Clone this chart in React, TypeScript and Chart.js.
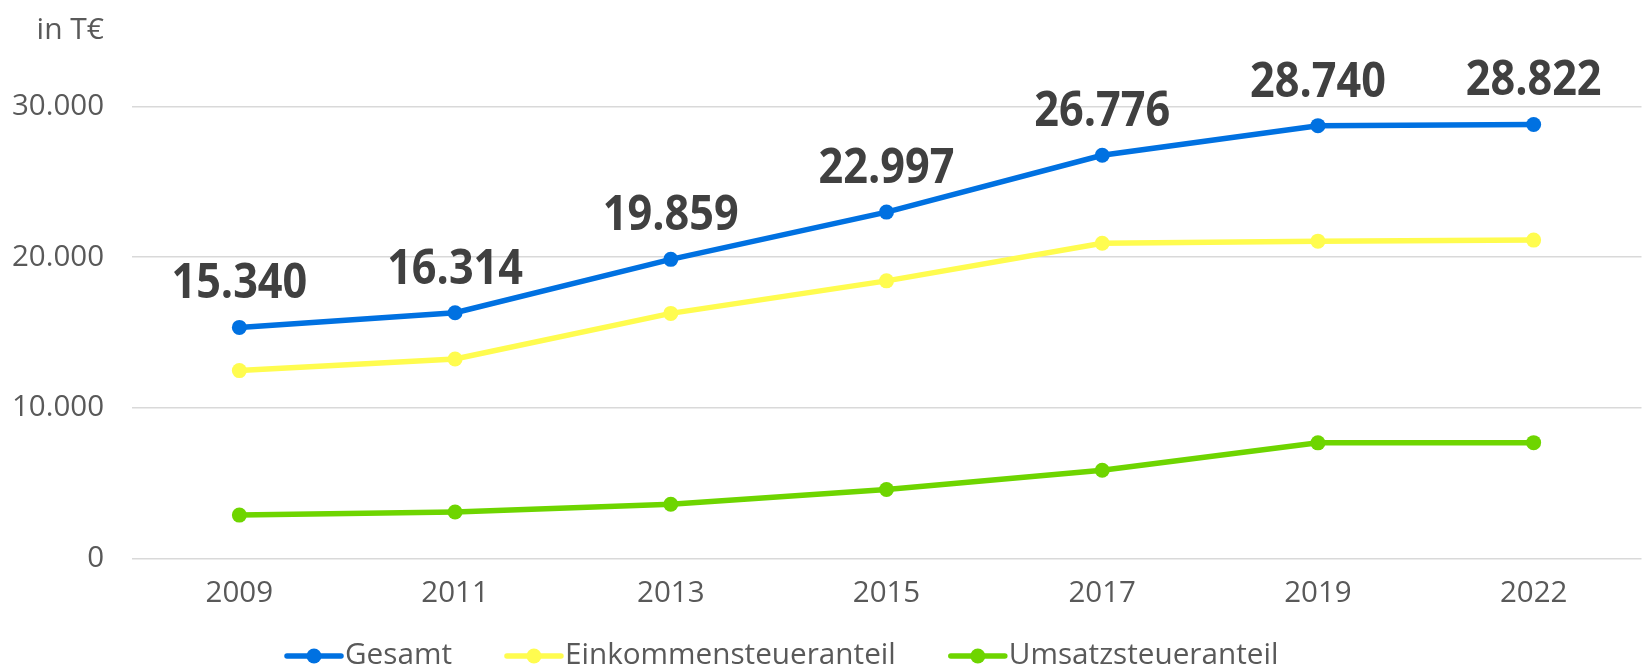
import React, { useEffect, useRef } from 'react';
import { Chart, registerables } from 'chart.js';

Chart.register(...registerables);

// ---- Data ----
const years = ['2009', '2011', '2013', '2015', '2017', '2019', '2022'];
const gesamt = [15340, 16314, 19859, 22997, 26776, 28740, 28822];
const einkommensteueranteil = [12470, 13240, 16270, 18430, 20930, 21070, 21140];
const umsatzsteueranteil = [2870, 3074, 3590, 4567, 5846, 7670, 7682];
const yTicks = [0, 10000, 20000, 30000];
const seriesNames = ['Gesamt', 'Einkommensteueranteil', 'Umsatzsteueranteil'];
const unitLabel = 'in T€';

// ---- Styles ----
const W = 1643;
const H = 667;
const FONT = '"Open Sans", sans-serif';
const TEXT = '#595959';
const BLUE = '#0071E1';
const YELLOW = '#FFFC4F';
const GREEN = '#6ED500';

const fmt = (n: number) => String(Math.round(n)).replace(/\B(?=(\d{3})+(?!\d))/g, '.');

export default function App() {
  const ref = useRef<HTMLCanvasElement>(null);

  useEffect(() => {
    const canvas = ref.current;
    if (!canvas) return;

    const valueLabels = {
      id: 'valueLabels',
      afterDatasetsDraw(chart: any) {
        const ctx = chart.ctx;
        const meta = chart.getDatasetMeta(0);
        ctx.save();
        ctx.fillStyle = '#404040';
        ctx.font = `bold 48px ${FONT}`;
        ctx.textAlign = 'center';
        ctx.textBaseline = 'alphabetic';
        meta.data.forEach((pt: any, i: number) => {
          ctx.save();
          ctx.translate(pt.x, pt.y - 29);
          ctx.scale(0.9, 1);
          ctx.fillText(fmt(gesamt[i]), 0, 0);
          ctx.restore();
        });
        ctx.restore();
      },
    };

    const unitText = {
      id: 'unitText',
      afterDraw(chart: any) {
        const ctx = chart.ctx;
        ctx.save();
        ctx.fillStyle = TEXT;
        ctx.font = `30px ${FONT}`;
        ctx.textAlign = 'right';
        ctx.textBaseline = 'alphabetic';
        ctx.fillText(unitLabel, 104, 39);
        ctx.restore();
      },
    };

    const customLegend = {
      id: 'customLegend',
      afterDraw(chart: any) {
        const ctx = chart.ctx;
        ctx.save();
        ctx.font = `29.7px ${FONT}`;
        ctx.textAlign = 'left';
        ctx.textBaseline = 'alphabetic';
        let x = 285;
        const y = 656;
        chart.data.datasets.forEach((ds: any) => {
          ctx.strokeStyle = ds.borderColor;
          ctx.fillStyle = ds.borderColor;
          ctx.lineWidth = 5.5;
          ctx.lineCap = 'round';
          ctx.beginPath();
          ctx.moveTo(x + 2, y);
          ctx.lineTo(x + 56, y);
          ctx.stroke();
          ctx.beginPath();
          ctx.arc(x + 29, y, 7.5, 0, Math.PI * 2);
          ctx.fill();
          ctx.fillStyle = TEXT;
          ctx.fillText(ds.label, x + 60, 664);
          x += 60 + ctx.measureText(ds.label).width + 53;
        });
        ctx.restore();
      },
    };

    const mk = (label: string, data: number[], color: string) => ({
      label,
      data,
      borderColor: color,
      backgroundColor: color,
      pointBackgroundColor: color,
      pointBorderColor: color,
      borderWidth: 5.5,
      pointRadius: 7.5,
      pointBorderWidth: 0,
      pointHoverRadius: 7.5,
      tension: 0,
      clip: false as any,
    });

    const chart = new Chart(canvas, {
      type: 'line',
      data: {
        labels: years,
        datasets: [
          mk(seriesNames[0], gesamt, BLUE),
          mk(seriesNames[1], einkommensteueranteil, YELLOW),
          mk(seriesNames[2], umsatzsteueranteil, GREEN),
        ],
      },
      options: {
        responsive: false,
        animation: false,
        devicePixelRatio: 1,
        layout: { autoPadding: false, padding: { top: 106.7, right: 1.5, bottom: 28.7, left: 0 } },
        plugins: {
          legend: { display: false },
          tooltip: { enabled: false },
          title: { display: false },
        },
        scales: {
          x: {
            type: 'category',
            offset: true,
            grid: { display: false },
            border: { display: false },
            ticks: {
              font: { family: FONT, size: 29.5 },
              color: TEXT,
              padding: 10,
              maxRotation: 0,
              autoSkip: false,
            },
            afterFit: (s: any) => {
              s.height = 80;
              s.paddingLeft = 0;
              s.paddingRight = 0;
            },
          },
          y: {
            min: 0,
            max: 30000,
            afterBuildTicks: (s: any) => {
              s.ticks = yTicks.map((v) => ({ value: v }));
            },
            ticks: {
              font: { family: FONT, size: 29.5 },
              color: TEXT,
              padding: 27.5,
              callback: (v: any) => fmt(Number(v)),
            },
            grid: { color: '#d9d9d9', lineWidth: 1.5, drawTicks: false },
            border: { display: false },
            afterFit: (s: any) => {
              s.width = 131.5;
            },
          },
        },
      },
      plugins: [valueLabels, unitText, customLegend],
    });

    return () => chart.destroy();
  }, []);

  return (
    <div style={{ position: 'absolute', left: 0, top: 0, width: W, height: H, background: '#fff' }}>
      <canvas ref={ref} width={W} height={H} style={{ display: 'block', width: W, height: H }} />
    </div>
  );
}
